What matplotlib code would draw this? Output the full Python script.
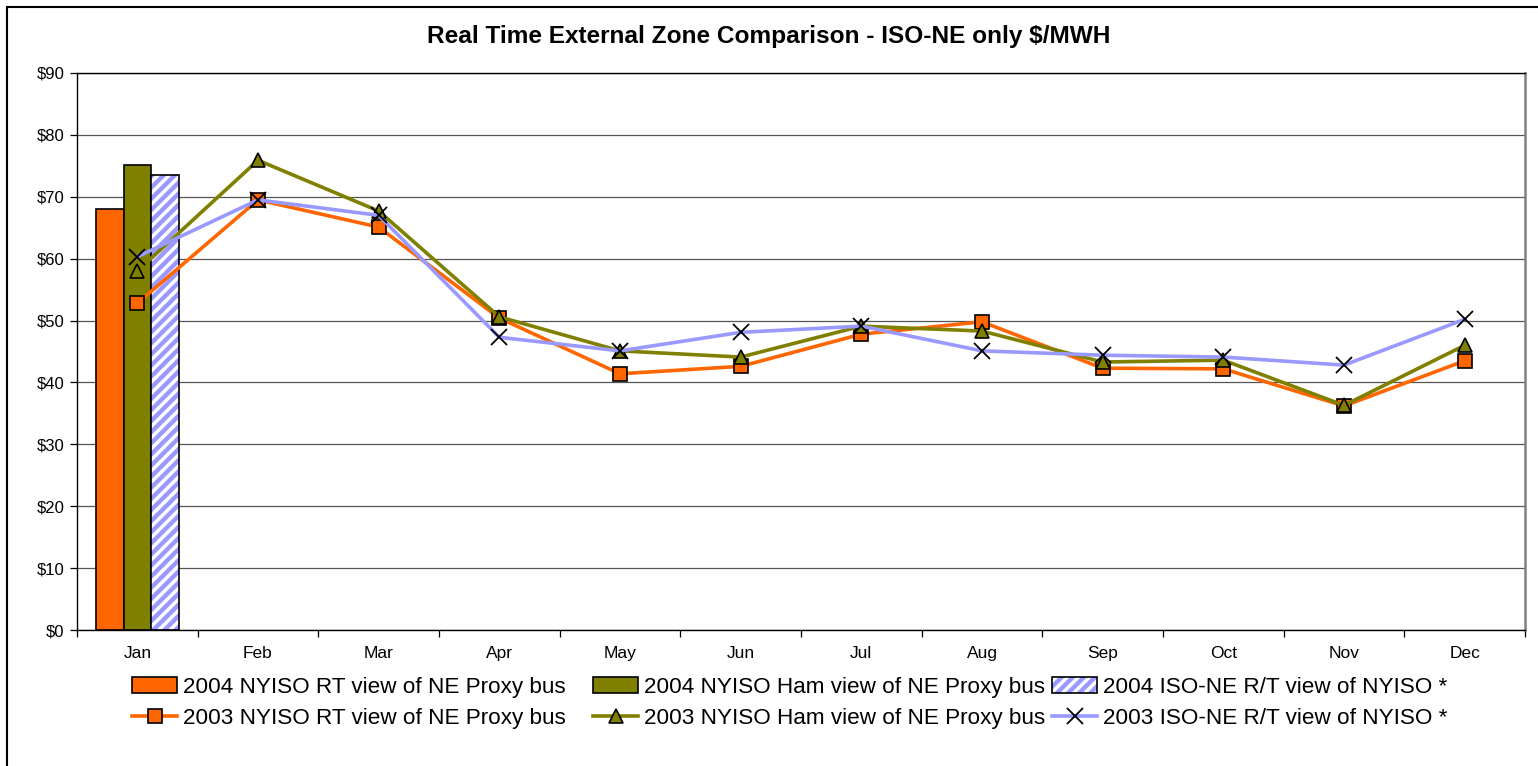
import matplotlib
matplotlib.use('Agg')
import numpy as np
import matplotlib.pyplot as plt
from matplotlib.patches import Patch, Rectangle
from matplotlib.legend_handler import HandlerTuple

plt.rcParams['font.family'] = ['Liberation Sans', 'DejaVu Sans']
plt.rcParams['hatch.linewidth'] = 2.5

months = ['Jan', 'Feb', 'Mar', 'Apr', 'May', 'Jun', 'Jul', 'Aug', 'Sep', 'Oct', 'Nov', 'Dec']

# 2004 bars (only January available)
rt_2004 = [68.0]
ham_2004 = [75.1]
iso_2004 = [73.5]

# 2003 lines
rt_2003 = [52.8, 69.5, 65.1, 50.4, 41.4, 42.6, 47.8, 49.8, 42.3, 42.2, 36.2, 43.5]
ham_2003 = [58.0, 75.9, 67.7, 50.6, 45.1, 44.1, 49.1, 48.3, 43.3, 43.6, 36.3, 46.0]
iso_2003 = [60.3, 69.5, 67.0, 47.3, 45.1, 48.1, 49.1, 45.1, 44.4, 44.1, 42.8, 50.2]

labels_bar = ['2004 NYISO RT view of NE Proxy bus',
              '2004 NYISO Ham view of NE Proxy bus',
              '2004 ISO-NE R/T view of NYISO *']
labels_line = ['2003 NYISO RT view of NE Proxy bus',
               '2003 NYISO Ham view of NE Proxy bus',
               '2003 ISO-NE R/T view of NYISO *']

orange = '#FF6600'
olive = '#808000'
lav = '#9999FF'

fig = plt.figure(figsize=(15.38, 7.66), dpi=100)
ax = fig.add_axes([77/1538, 136/766, 1448/1538, 557/766])

x = np.arange(len(months))
w = 0.228
xb = x[:1]
ax.bar(xb - w, rt_2004, w, color=orange, edgecolor='black', linewidth=1.2, zorder=2)
ax.bar(xb, ham_2004, w, color=olive, edgecolor='black', linewidth=1.2, zorder=2)
ax.bar(xb + w, iso_2004, w, color=lav, edgecolor='white', hatch='///', linewidth=0, zorder=2)
ax.bar(xb + w, iso_2004, w, color='none', edgecolor='black', linewidth=1.2, zorder=2)

l1, = ax.plot(x, rt_2003, color=orange, lw=2.6, marker='s', ms=10,
              mfc=orange, mec='black', mew=1.2, zorder=3)
l2, = ax.plot(x, ham_2003, color=olive, lw=2.6, marker='^', ms=10.5,
              mfc=olive, mec='black', mew=1.2, zorder=3)
l3, = ax.plot(x, iso_2003, color=lav, lw=2.6, marker='x', ms=11,
              mec='black', mew=1.3, zorder=3)

ax.set_xlim(-0.5, 11.5)
ax.set_ylim(0, 90)
ax.set_yticks(np.arange(0, 100, 10))
ax.set_yticklabels(['$%d' % v for v in range(0, 100, 10)], fontsize=12)
ax.yaxis.grid(True, color='#555555', lw=0.9, zorder=0)
ax.set_axisbelow(True)
ax.set_xticks(x)
ax.set_xticklabels(months, fontsize=12.5)
ax.set_xticks(np.arange(-0.5, 12, 1), minor=True)
ax.tick_params(axis='x', which='major', length=0, pad=11.5)
ax.tick_params(axis='x', which='minor', length=5, width=0.9, direction='out')
ax.tick_params(axis='y', length=5, width=0.9, direction='out', pad=4)
for s in ['left', 'bottom', 'top']:
    ax.spines[s].set_color('black')
    ax.spines[s].set_linewidth(1.0)
ax.spines['right'].set_color('#808080')
ax.spines['right'].set_linewidth(1.8)

fig.text(0.5, 1 - 37/766, 'Real Time External Zone Comparison - ISO-NE only $/MWH',
         ha='center', va='center', fontsize=17.6, fontweight='bold')

h_rt = Patch(facecolor=orange, edgecolor='black', linewidth=1.2)
h_ham = Patch(facecolor=olive, edgecolor='black', linewidth=1.2)
h_iso = (Patch(facecolor=lav, edgecolor='white', hatch='///', linewidth=0),
         Patch(facecolor='none', edgecolor='black', linewidth=1.2))
cols = [([h_rt, l1], [labels_bar[0], labels_line[0]], 132),
        ([h_ham, l2], [labels_bar[1], labels_line[1]], 593),
        ([h_iso, l3], [labels_bar[2], labels_line[2]], 1052)]
for hs, ls, xpos in cols:
    leg = fig.legend(hs, ls, loc='center left', bbox_to_anchor=(xpos/1538, 1 - 703/766),
                     ncol=1, frameon=False, fontsize=16.2, handlelength=2.0,
                     handleheight=0.75, handletextpad=0.27, labelspacing=0.45,
                     borderpad=0, borderaxespad=0,
                     handler_map={tuple: HandlerTuple(ndivide=1, pad=0)})

fig.patches.append(Rectangle((7/1538, -0.1), 1.2, 1 - 7/766 + 0.1, transform=fig.transFigure,
                             fill=False, edgecolor='black', linewidth=1.5))

fig.savefig('out.png', dpi=100)
